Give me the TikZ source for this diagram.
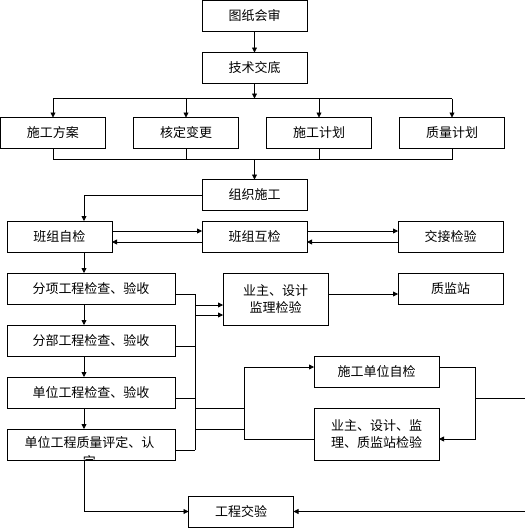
\documentclass[tikz,border=0pt]{standalone}
\usepackage{fontspec}
\setmainfont{Noto Sans CJK SC}
\usetikzlibrary{arrows.meta, positioning, calc}

\begin{document}
\begin{tikzpicture}[
  x=1pt, y=1pt,
  font=\fontsize{13}{17}\selectfont,
  box/.style={draw, line width=0.8pt, inner sep=0pt, outer sep=0pt, minimum width=105pt, minimum height=31pt, align=center},
  widebox/.style={box, minimum width=168pt},
  tallbox/.style={box, minimum height=52pt},
  arrow/.style={-{Triangle[length=5pt,width=5pt]}, line width=0.8pt},
  line/.style={line width=0.8pt}
]
  \useasboundingbox (0,0) rectangle (525,-528);

  % top column
  \node[box] (tuzhi) at (254.5,-16) {图纸会审};
  \node[box, below=21pt of tuzhi] (jishu) {技术交底};

  \node[box] (fangan) at (53,-133) {施工方案};
  \node[box, right=28pt of fangan] (biangeng) {核定变更};
  \node[box, right=28pt of biangeng] (jihua) {施工计划};
  \node[box, right=28pt of jihua] (zhiliang) {质量计划};

  \coordinate (fork) at ($(jishu.south)+(0,-15)$);
  \coordinate (join) at ($(jishu.south |- fangan.south)+(0,-11)$);

  \node[box, below=20pt of join] (zuzhi) {组织施工};

  % team checks
  \node[box] (zijian) at (59.5,-236.5) {班组自检};
  \node[box, right=90pt of zijian] (hujian) {班组互检};
  \node[box, right=91pt of hujian] (jiaojie) {交接检验};

  % acceptance column
  \node[widebox, below=21pt of zijian.south west, anchor=north west] (fenxiang) {分项工程检查、验收};
  \node[widebox, below=21pt of fenxiang] (fenbu) {分部工程检查、验收};
  \node[widebox, below=21pt of fenbu] (danwei) {单位工程检查、验收};
  \node[widebox, below=21pt of danwei, path picture={
    \node[draw=none, minimum width=0pt, minimum height=0pt, inner sep=0pt, anchor=north, align=center]
      at ([xshift=-1.5pt, yshift=-7pt]path picture bounding box.north) {单位工程质量评定、认\\[2pt]定};
  }] (pingding) {};

  \node[tallbox, right=48pt of fenxiang.north east, anchor=north west] (yezhu) {业主、设计\\监理检验};
  \node[box, right=70pt of yezhu.north east, anchor=north west] (zhijian) {质监站};

  \node[box, minimum width=125pt] (shigongzijian) at (376.5,-371.5) {施工单位自检};
  \node[box, minimum width=125pt, minimum height=52pt, below=21pt of shigongzijian] (lianhe) {业主、设计、监\\理、质监站检验};

  \node[box] (jiaoyan) at (241,-511.5) {工程交验};

  \coordinate (col) at (84,0);
  \coordinate (rbus) at ($(fenxiang.east)+(20,0)$);
  \coordinate (mbus) at ($(rbus)+(49,0)$);
  \coordinate (rside) at ($(shigongzijian.east)+(36,0)$);
  \coordinate (edge) at ($(rside)+(55,0)$);

  % connectors
  \draw[arrow] (tuzhi) -- (jishu);
  \draw[arrow] (jishu) -- (fork);
  \draw[line] (fangan.north |- fork) -- (zhiliang.north |- fork);
  \foreach \n in {fangan,biangeng,jihua,zhiliang} {
    \draw[arrow] (\n.north |- fork) -- (\n);
    \draw[line] (\n) -- (\n.south |- join);
  }
  \draw[line] (fangan.south |- join) -- (zhiliang.south |- join);
  \draw[arrow] (join) -- (zuzhi);
  \draw[arrow] (zuzhi.west) -| (col |- zijian.north);

  \foreach \a/\b in {zijian/hujian, hujian/jiaojie} {
    \draw[arrow] ([yshift=5.5pt]\a.east) -- ([yshift=5.5pt]\b.west);
    \draw[arrow] ([yshift=-5.5pt]\b.west) -- ([yshift=-5.5pt]\a.east);
  }

  \foreach \a/\b in {zijian/fenxiang, fenxiang/fenbu, fenbu/danwei, danwei/pingding}
    \draw[arrow] (col |- \a.south) -- (col |- \b.north);

  \foreach \n in {fenxiang,fenbu,danwei,pingding}
    \draw[line] ([yshift=-5.5pt]\n.east) -- ([yshift=-5.5pt]\n.east -| rbus);
  \draw[line] ([yshift=-5.5pt]fenxiang.east -| rbus) -- ([yshift=-5.5pt]pingding.east -| rbus);
  \draw[arrow] ([yshift=-6pt]yezhu.west -| rbus) -- ([yshift=-6pt]yezhu.west);
  \draw[arrow] ([yshift=-16pt]yezhu.west -| rbus) -- ([yshift=-16pt]yezhu.west);
  \draw[arrow] ([yshift=5pt]yezhu.east) -- ([yshift=5pt]yezhu.east -| zhijian.west);

  \draw[line] (rbus |- danwei.south) -- (mbus |- danwei.south);
  \draw[line] (rbus |- pingding.north) -- (mbus |- pingding.north);
  \draw[arrow] ([yshift=4.5pt]shigongzijian.west -| mbus) -- ([yshift=4.5pt]shigongzijian.west);
  \draw[line] ([yshift=4.5pt]shigongzijian.west -| mbus) -- ([yshift=-5pt]lianhe.west -| mbus) -- ([yshift=-5pt]lianhe.west);
  \draw[arrow] ([yshift=4.5pt]shigongzijian.east) -| ([yshift=-5pt]lianhe.east -| rside) -- ([yshift=-5pt]lianhe.east);

  \draw[arrow] ([yshift=-5.5pt]danwei.east -| rside) -| (edge |- jiaoyan.east) -- (jiaoyan.east);
  \draw[arrow] (col |- pingding.south) |- (jiaoyan.west);
\end{tikzpicture}
\end{document}
